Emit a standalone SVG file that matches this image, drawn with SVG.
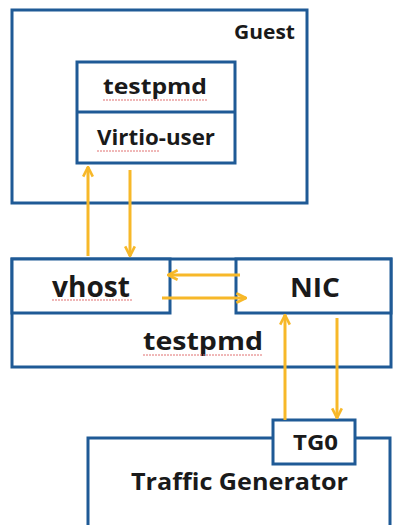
<svg xmlns="http://www.w3.org/2000/svg" width="393" height="525" viewBox="0 0 393 525">
<style>
.box{fill:#ffffff;stroke:#1f5a96;stroke-width:3}
.ln{stroke:#1f5a96;stroke-width:3;fill:none}
.t{font-family:"Open Sans","Noto Sans",sans-serif;font-weight:bold;fill:#1a1a1a}
.a{stroke:#f7b829;stroke-width:3;fill:none;marker-end:url(#ah)}
.sq{stroke:#e07070;stroke-width:1;stroke-dasharray:2 1;fill:none}
</style>
<defs>
<marker id="ah" viewBox="0 0 10 10" refX="9" refY="5" markerWidth="4" markerHeight="4" orient="auto" markerUnits="strokeWidth">
<path d="M1,1 L9,5 L1,9" fill="none" stroke="#f7b829" stroke-width="2.2"/>
</marker>
</defs>
<rect width="393" height="525" fill="#ffffff"/>
<g id="guest">
<rect class="box" x="12" y="10" width="295" height="193"/>
<text class="t" x="234" y="39" font-size="19" textLength="61" lengthAdjust="spacingAndGlyphs">Guest</text>
</g>
<g id="guest-app">
<rect class="box" x="77" y="62" width="158" height="101"/>
<line class="ln" x1="77" y1="112" x2="235" y2="112"/>
<text class="t" x="103" y="94" font-size="22" textLength="104" lengthAdjust="spacingAndGlyphs">testpmd</text>
<path class="sq" d="M103,100 L207,100"/>
<text class="t" x="97" y="145" font-size="21" textLength="118" lengthAdjust="spacingAndGlyphs">Virtio-user</text>
<path class="sq" d="M97,151 L160,151"/>
</g>
<g id="host-testpmd">
<rect class="box" x="12" y="259" width="379" height="108"/>
<text class="t" x="143" y="350" font-size="25" textLength="120" lengthAdjust="spacingAndGlyphs">testpmd</text>
<path class="sq" d="M143,355 L263,355"/>
</g>
<g id="vhost">
<rect class="box" x="12" y="259" width="158" height="54"/>
<text class="t" x="52" y="297" font-size="28" textLength="78" lengthAdjust="spacingAndGlyphs">vhost</text>
<path class="sq" d="M52,300 L133,300"/>
</g>
<g id="nic">
<rect class="box" x="236" y="259" width="155" height="54"/>
<text class="t" x="290" y="297" font-size="27" textLength="50" lengthAdjust="spacingAndGlyphs">NIC</text>
</g>
<g id="traffic-generator">
<rect class="box" x="88" y="438" width="302" height="100"/>
<text class="t" x="131" y="490" font-size="23" textLength="217" lengthAdjust="spacingAndGlyphs">Traffic Generator</text>
</g>
<g id="tg0">
<rect class="box" x="273" y="420" width="82" height="44"/>
<text class="t" x="293" y="450" font-size="22" textLength="45" lengthAdjust="spacingAndGlyphs">TG0</text>
</g>
<g id="connectors">
<line class="a" x1="88" y1="256" x2="88" y2="167"/>
<line class="a" x1="130" y1="170" x2="130" y2="256"/>
<line class="a" x1="240" y1="275" x2="168" y2="275"/>
<line class="a" x1="162" y1="298" x2="246" y2="298"/>
<line class="a" x1="285" y1="420" x2="285" y2="315"/>
<line class="a" x1="337" y1="318" x2="337" y2="418"/>
</g>
</svg>
